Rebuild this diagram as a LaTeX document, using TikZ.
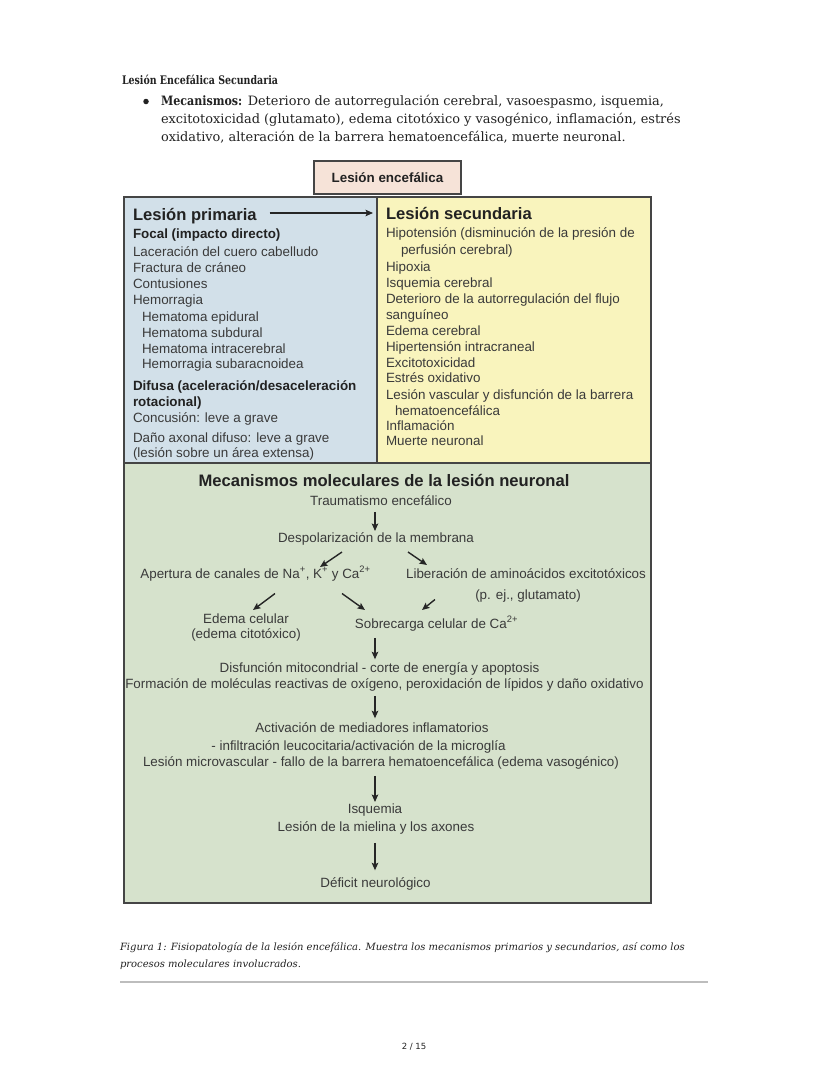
\documentclass[tikz,border=0pt]{standalone}
\usepackage{fontspec}
\setmainfont{DejaVu Serif}
\newfontfamily\hdrcond[FakeStretch=0.86]{DejaVu Serif}
\newfontfamily\titlecond[FakeStretch=0.8]{DejaVu Serif}
\newfontfamily\figfont{Liberation Sans}
\newfontfamily\pgfont{DejaVu Sans}
\usetikzlibrary{arrows.meta}
\definecolor{bluebg}{HTML}{D2E0E9}
\definecolor{yellowbg}{HTML}{F9F4BD}
\definecolor{greenbg}{HTML}{D6E2CC}
\definecolor{pinkbg}{HTML}{F6E3D8}
\definecolor{border}{HTML}{454545}
\definecolor{txtgray}{HTML}{3A3A3A}
\definecolor{hdgray}{HTML}{222222}
\definecolor{rulegray}{HTML}{BDBDBD}
\tikzset{
  every node/.style={inner sep=0pt, outer sep=0pt},
  body/.style={font=\figfont\fontsize{13.4}{16}\selectfont, text=txtgray, text height=9.7pt, text depth=2.9pt},
  lft/.style={body, anchor=base west},
  ctr/.style={body, anchor=base},
  bsub/.style={lft, font=\figfont\bfseries\fontsize{13.4}{16}\selectfont, text=hdgray},
  bhead/.style={font=\figfont\bfseries\fontsize{16.6}{19}\selectfont, text=hdgray, text height=12pt, text depth=3.5pt},
  hdr/.style={anchor=base west, font=\fontsize{12.9}{15}\selectfont, text=hdgray},
  arr/.style={-{Stealth[length=7.5pt,width=6.5pt,inset=1.5pt]}, line width=1.4pt, draw=black!85},
  panel/.style={draw=border, line width=1.7pt},
}
\begin{document}
\begin{tikzpicture}[x=1pt,y=-1pt]
\useasboundingbox[fill=white] (0,0) rectangle (828,1071);

% ---------- header text ----------
\node[hdr, font=\titlecond\bfseries\fontsize{11.8}{14}\selectfont] (title) at (122,84.5) {Lesión Encefálica Secundaria};
\node[circle, fill=hdgray, minimum size=5.5pt] (bul) at (146,101.5) {};
\node[hdr] (h1) at (161,105.5) {{\hdrcond\bfseries Mecanismos:} Deterioro de autorregulación cerebral, vasoespasmo, isquemia,};
\node[hdr] (h2) at (161,123.5) {excitotoxicidad (glutamato), edema citotóxico y vasogénico, inflamación, estrés};
\node[hdr] (h3) at (161,141.5) {oxidativo, alteración de la barrera hematoencefálica, muerte neuronal.};

% ---------- panels ----------
\fill[bluebg] (124,197) rectangle (377,463);
\fill[yellowbg] (377,197) rectangle (651,463);
\fill[greenbg] (124,463) rectangle (651,903);
\draw[panel] (124,197) rectangle (651,903);
\draw[panel] (377,197) -- (377,463);
\draw[panel] (124,463) -- (651,463);

\node[draw=border, line width=1.6pt, fill=pinkbg, minimum width=147pt, minimum height=33pt,
      font=\figfont\bfseries\fontsize{13.4}{16}\selectfont, text=hdgray] (enc) at (387.5,177.5) {Lesión encefálica};

% ---------- left column ----------
\node[bhead, anchor=base west] (prim) at (133,220) {Lesión primaria};
\node[bsub] (focal) at (133,238) {Focal (impacto directo)};
\node[lft] (l1) at (133,256) {Laceración del cuero cabelludo};
\node[lft] (l2) at (133,272) {Fractura de cráneo};
\node[lft] (l3) at (133,288) {Contusiones};
\node[lft] (l4) at (133,304) {Hemorragia};
\node[lft] (l5) at (142,321) {Hematoma epidural};
\node[lft] (l6) at (142,337) {Hematoma subdural};
\node[lft] (l7) at (142,353) {Hematoma intracerebral};
\node[lft] (l8) at (142,368) {Hemorragia subaracnoidea};
\node[bsub] (difusa) at (133,390) {Difusa (aceleración/desaceleración};
\node[bsub] (rot) at (133,406) {rotacional)};
\node[lft] (l9) at (133,422) {Concusión: leve a grave};
\node[lft] (l10) at (133,442) {Daño axonal difuso: leve a grave};
\node[lft] (l11) at (133,457) {(lesión sobre un área extensa)};

% ---------- right column ----------
\node[bhead, anchor=base west] (sec) at (386,219) {Lesión secundaria};
\node[lft] (r1) at (386,237) {Hipotensión (disminución de la presión de};
\node[lft] (r2) at (401,254) {perfusión cerebral)};
\node[lft] (r3) at (386,271) {Hipoxia};
\node[lft] (r4) at (386,287) {Isquemia cerebral};
\node[lft] (r5) at (386,303) {Deterioro de la autorregulación del flujo};
\node[lft] (r6) at (386,319) {sanguíneo};
\node[lft] (r7) at (386,335) {Edema cerebral};
\node[lft] (r8) at (386,351) {Hipertensión intracraneal};
\node[lft] (r9) at (386,367) {Excitotoxicidad};
\node[lft] (r10) at (386,382) {Estrés oxidativo};
\node[lft] (r11) at (386,399) {Lesión vascular y disfunción de la barrera};
\node[lft] (r12) at (395,415) {hematoencefálica};
\node[lft] (r13) at (386,430) {Inflamación};
\node[lft] (r14) at (386,445) {Muerte neuronal};

\draw[arr, line width=1.3pt, shorten <=13pt, shorten >=13pt] ([yshift=7pt]prim.base east) -- ([yshift=6pt]sec.base west);

% ---------- molecular mechanisms ----------
\node[bhead, anchor=base] (mol) at (384,486) {Mecanismos moleculares de la lesión neuronal};
\node[ctr] (trauma) at (381,505) {Traumatismo encefálico};
\node[ctr] (despol) at (376,542) {Despolarización de la membrana};
\node[ctr] (aper) at (255.5,578) {Apertura de canales de Na\textsuperscript{+}, K\textsuperscript{+} y Ca\textsuperscript{2+}};
\node[ctr] (lib) at (526,578) {Liberación de aminoácidos excitotóxicos};
\node[ctr] (glut) at (528,599) {(p. ej., glutamato)};
\node[ctr] (edema) at (246,623) {Edema celular};
\node[ctr] (edema2) at (246,638) {(edema citotóxico)};
\node[ctr] (sobre) at (436.5,628) {Sobrecarga celular de Ca\textsuperscript{2+}};
\node[ctr] (disf) at (379.5,672) {Disfunción mitocondrial - corte de energía y apoptosis};
\node[ctr] (form) at (384.5,688) {Formación de moléculas reactivas de oxígeno, peroxidación de lípidos y daño oxidativo};
\node[ctr] (activ) at (372,732) {Activación de mediadores inflamatorios};
\node[ctr] (infil) at (358.5,750) {- infiltración leucocitaria/activación de la microglía};
\node[ctr] (micro) at (381,766) {Lesión microvascular - fallo de la barrera hematoencefálica (edema vasogénico)};
\node[ctr] (isq) at (375,813) {Isquemia};
\node[ctr] (miel) at (376,831) {Lesión de la mielina y los axones};
\node[ctr] (defic) at (375.5,887) {Déficit neurológico};

\coordinate (ax) at (375,0);
\draw[arr, shorten <=4pt, shorten >=1.3pt] (trauma.south -| ax) -- (despol.north -| ax);
\draw[arr] ([shift={(-34,10)}]despol.base) -- ([shift={(64.5,-11)}]aper.base);
\draw[arr] ([shift={(32,10)}]despol.base) -- ([shift={(-99,-13)}]lib.base);
\draw[arr] ([shift={(19.5,15.5)}]aper.base) -- ([shift={(7,-13)}]edema.base);
\draw[arr] ([shift={(86.5,15.5)}]aper.base) -- ([shift={(-71.5,-18)}]sobre.base);
\draw[arr] ([shift={(-93,0.5)}]glut.base) -- ([shift={(-14.5,-18)}]sobre.base);
\draw[arr, shorten <=7pt, shorten >=3pt] (sobre.south -| ax) -- (disf.north -| ax);
\draw[arr, shorten <=5pt, shorten >=4pt] (form.south -| ax) -- (activ.north -| ax);
\draw[arr, shorten <=7pt, shorten >=1.3pt] (micro.south -| ax) -- (isq.north -| ax);
\draw[arr, shorten <=9pt, shorten >=7pt] (miel.south -| ax) -- (defic.north -| ax);

% ---------- caption and footer ----------
\node[anchor=base west, font=\itshape\fontsize{10}{12}\selectfont, text=hdgray] (cap1) at (120,950) {Figura 1: Fisiopatología de la lesión encefálica. Muestra los mecanismos primarios y secundarios, así como los};
\node[anchor=base west, font=\itshape\fontsize{10}{12}\selectfont, text=hdgray] (cap2) at (120,967) {procesos moleculares involucrados.};
\draw[rulegray, line width=1.3pt] (120,982) -- (708,982);
\node[anchor=base, font=\pgfont\fontsize{8.5}{10}\selectfont, text=hdgray] (page) at (414,1049) {2 / 15};
\end{tikzpicture}
\end{document}
